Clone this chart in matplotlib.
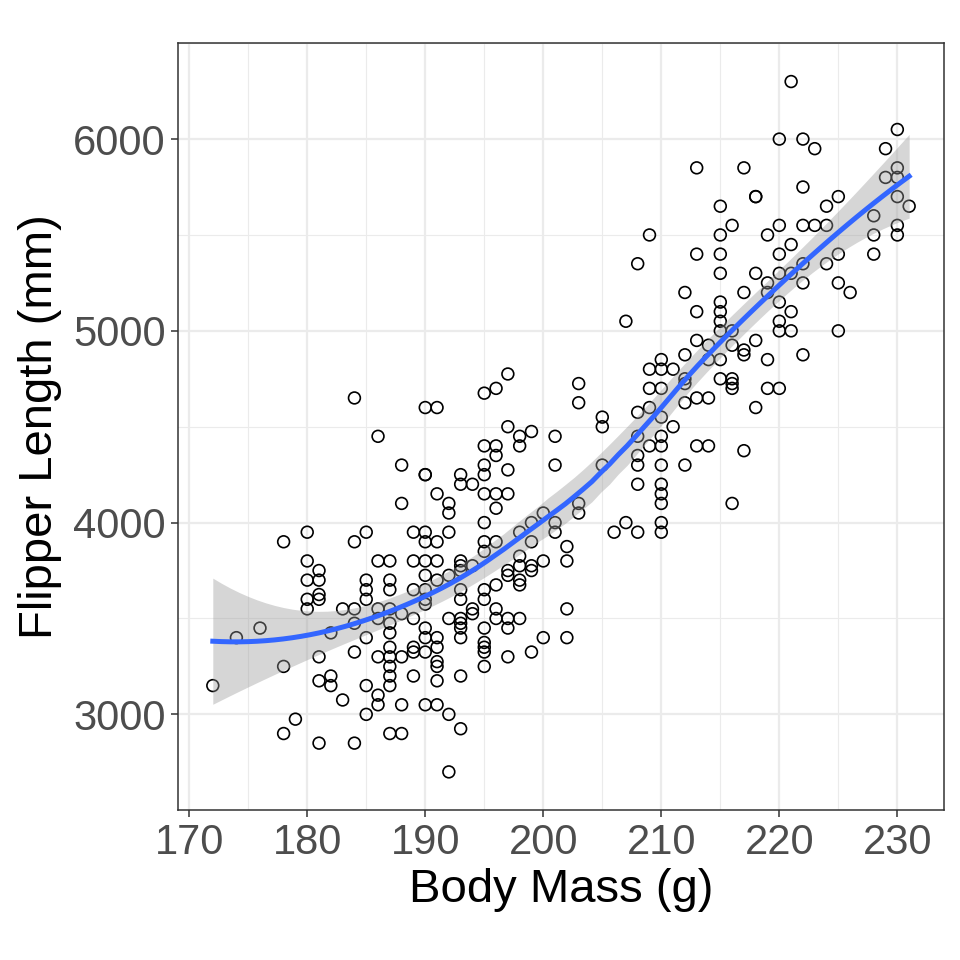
import matplotlib
matplotlib.use("Agg")
import matplotlib.pyplot as plt
import numpy as np

# flipper length -> body masses seen at that length
mass_by_flipper = {
    172: [3150],
    174: [3400],
    176: [3450],
    178: [3900, 3250, 2900],
    179: [2975],
    180: [3950, 3800, 3700, 3600, 3550],
    181: [3750, 3700, 3625, 3600, 3300, 3175, 2850],
    182: [3425, 3200, 3150],
    183: [3550, 3075],
    184: [4650, 3900, 3550, 3475, 3325, 2850],
    185: [3950, 3700, 3650, 3600, 3400, 3150, 3000],
    186: [4450, 3800, 3550, 3500, 3300, 3100, 3050],
    187: [3800, 3700, 3650, 3550, 3475, 3425, 3350, 3300, 3250, 3200, 3150, 2900],
    188: [4300, 4100, 3525, 3300, 3050, 2900],
    189: [3950, 3800, 3650, 3500, 3350, 3325, 3200],
    190: [4600, 4250, 4250, 3950, 3900, 3800, 3725, 3650, 3600, 3575, 3450, 3400, 3325, 3050],
    191: [4600, 4150, 3900, 3800, 3700, 3400, 3350, 3275, 3250, 3175, 3050],
    192: [4100, 4050, 3950, 3725, 3500, 3000, 2700],
    193: [4250, 4200, 3800, 3775, 3750, 3650, 3600, 3500, 3475, 3450, 3400, 3200, 2925],
    194: [4200, 3775, 3550, 3525],
    195: [4675, 4400, 4300, 4250, 4150, 4000, 3900, 3850, 3650, 3600, 3450, 3375, 3350, 3325, 3250],
    196: [4700, 4400, 4350, 4150, 4075, 3900, 3675, 3550, 3500],
    197: [4775, 4500, 4275, 4150, 3750, 3725, 3500, 3450, 3300],
    198: [4450, 4400, 3950, 3825, 3775, 3700, 3675, 3500],
    199: [4475, 4000, 3900, 3775, 3750, 3325],
    200: [4050, 3800, 3400],
    201: [4450, 4300, 4000, 3950],
    202: [3875, 3800, 3550, 3400],
    203: [4725, 4625, 4100, 4050],
    205: [4550, 4500, 4300],
    206: [3950],
    207: [5050, 4000],
    208: [5350, 4575, 4450, 4350, 4300, 4200, 3950],
    209: [5500, 4800, 4700, 4600, 4400],
    210: [4850, 4800, 4700, 4550, 4450, 4400, 4300, 4200, 4150, 4100, 4000, 3950],
    211: [4800, 4500],
    212: [5200, 4875, 4750, 4725, 4625, 4300],
    213: [5850, 5400, 5100, 4950, 4650, 4400],
    214: [4925, 4850, 4650, 4400],
    215: [5650, 5500, 5400, 5300, 5150, 5100, 5050, 5000, 4850, 4750],
    216: [5550, 5000, 4925, 4750, 4725, 4700, 4100],
    217: [5850, 5200, 4900, 4875, 4375],
    218: [5700, 5700, 5300, 4950, 4600],
    219: [5500, 5250, 5200, 4850, 4700],
    220: [6000, 5550, 5400, 5300, 5150, 5050, 5000, 4700],
    221: [6300, 5450, 5300, 5100, 5000],
    222: [6000, 5750, 5550, 5350, 5250, 4875],
    223: [5950, 5550],
    224: [5650, 5550, 5350],
    225: [5700, 5400, 5250, 5000],
    226: [5200],
    228: [5600, 5500, 5400],
    229: [5950, 5800],
    230: [6050, 5850, 5800, 5700, 5550, 5500],
    231: [5650],
}

flipper = np.array([f for f, ms in mass_by_flipper.items() for _ in ms], dtype=float)
mass = np.array([m for ms in mass_by_flipper.values() for m in ms], dtype=float)


def loess_row(x, x0, span=0.75):
    # local quadratic fit with tricube weights; operator row for x0
    n = len(x)
    q = int(np.floor(n * span))
    d = np.abs(x - x0)
    h = np.sort(d)[q - 1]
    w = (1 - np.clip(d / h, 0, 1) ** 3) ** 3
    X = np.column_stack([np.ones_like(x), x - x0, (x - x0) ** 2])
    XtW = X.T * w
    return np.linalg.solve(XtW @ X, XtW)[0]


n = len(flipper)
L = np.array([loess_row(flipper, xi) for xi in flipper])
resid = mass - L @ mass
M = np.eye(n) - L
MM = M.T @ M
delta1 = np.trace(MM)
delta2 = np.trace(MM @ MM)
sigma = np.sqrt(np.sum(resid ** 2) / delta1)
df = delta1 ** 2 / delta2
z = 1.959964
tq = z + (z ** 3 + z) / (4 * df) + (5 * z ** 5 + 16 * z ** 3 + 3 * z) / (96 * df ** 2)

xgrid = np.linspace(flipper.min(), flipper.max(), 80)
rows = np.array([loess_row(flipper, x0) for x0 in xgrid])
fit = rows @ mass
se = sigma * np.sqrt(np.sum(rows ** 2, axis=1))

plt.rcParams['font.family'] = ['Liberation Sans', 'DejaVu Sans']

fig = plt.figure(figsize=(9.6, 9.6), dpi=100)
ax = fig.add_axes([0.1854, 0.156, 0.7979, 0.799])

ax.scatter(flipper, mass, s=72, facecolors='none', edgecolors='black',
           linewidths=1.2, zorder=2)
ax.fill_between(xgrid, fit - tq * se, fit + tq * se, color='#999999',
                alpha=0.4, linewidth=0, zorder=3)
ax.plot(xgrid, fit, color='#3366FF', linewidth=3.6, zorder=4)

xr = flipper.max() - flipper.min()
yr = mass.max() - mass.min()
ax.set_xlim(flipper.min() - 0.05 * xr, flipper.max() + 0.05 * xr)
ax.set_ylim(mass.min() - 0.05 * yr, mass.max() + 0.05 * yr)

ax.set_xticks(np.arange(170, 231, 10))
ax.set_xticks(np.arange(175, 235, 10), minor=True)
ax.set_yticks(np.arange(3000, 6001, 1000))
ax.set_yticks(np.arange(2500, 6501, 1000), minor=True)
ax.grid(which='major', color='#EBEBEB', linewidth=1.6, zorder=0)
ax.grid(which='minor', color='#EBEBEB', linewidth=0.8, zorder=0)
ax.set_axisbelow(True)

ax.tick_params(which='major', length=5, width=1.1, color='#333333',
               labelsize=30, labelcolor='#4D4D4D', pad=4)
ax.tick_params(which='minor', length=0)
for sp in ax.spines.values():
    sp.set_color('#333333')
    sp.set_linewidth(1.1)

ax.set_xlabel('Body Mass (g)', fontsize=34, color='black', labelpad=4)
ax.set_ylabel('Flipper Length (mm)', fontsize=34, color='black', labelpad=8)

fig.savefig('out.png', dpi=100)
